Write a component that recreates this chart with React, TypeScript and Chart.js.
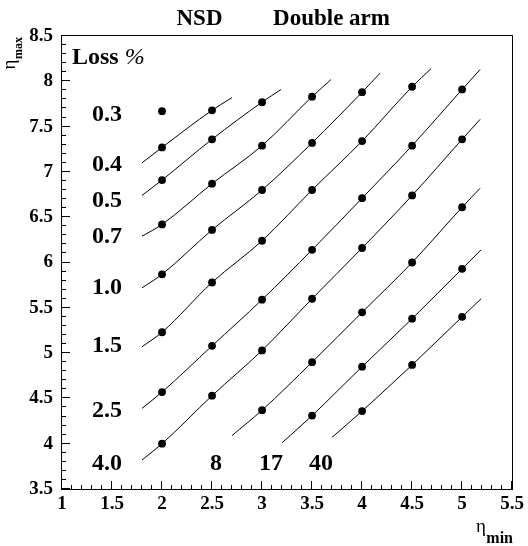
import React, { useEffect, useRef } from "react";
import { Chart, registerables } from "chart.js";

Chart.register(...registerables);

const FONT = '"Liberation Serif", "Times New Roman", serif';

// Loss contours (in %), top-left to bottom-right
const lossLabels = ["0.3", "0.4", "0.5", "0.7", "1.0", "1.5", "2.5", "4.0", "8", "17", "40"];

// eta_min of the first simulated point on each contour (points follow every 0.5)
const firstEtaMin = [2, 2, 2, 2, 2, 2, 2, 2, 3, 3.5, 4];

// eta_max of the simulated points on each contour
const etaMax0p3 = [7.67];
const etaMax0p4 = [7.27, 7.68];
const etaMax0p5 = [6.91, 7.36, 7.77];
const etaMax0p7 = [6.42, 6.87, 7.29, 7.83];
const etaMax1p0 = [5.87, 6.36, 6.8, 7.32, 7.88];
const etaMax1p5 = [5.23, 5.78, 6.24, 6.8, 7.34, 7.94];
const etaMax2p5 = [4.57, 5.08, 5.59, 6.14, 6.71, 7.29, 7.91];
const etaMax4p0 = [4.0, 4.53, 5.03, 5.6, 6.16, 6.74, 7.36];
const etaMax8 = [4.37, 4.9, 5.45, 6.0, 6.61];
const etaMax17 = [4.31, 4.85, 5.38, 5.93];
const etaMax40 = [4.36, 4.87, 5.4];

// extent of the fitted curve through each contour (no curve for 0.3)
const fitStartEtaMin = [null, 1.8, 1.8, 1.8, 1.8, 1.8, 1.8, 1.8, 2.7, 3.2, 3.7];
const fitStartEtaMax = [null, 7.1, 6.74, 6.29, 5.72, 5.07, 4.39, 3.82, 4.09, 4.01, 4.07];
const fitEndEtaMin = [null, 2.7, 3.19, 3.69, 4.18, 4.69, 5.18, 5.18, 5.18, 5.19, 5.19];
const fitEndEtaMax = [null, 7.82, 7.91, 8.02, 8.09, 8.14, 8.13, 7.58, 6.82, 6.14, 5.6];

// where each contour's loss value is written (axis units)
const labelEtaMin = [1.45, 1.45, 1.45, 1.45, 1.45, 1.45, 1.45, 1.45, 2.54, 3.09, 3.59];
const labelEtaMax = [7.63, 7.075, 6.68, 6.28, 5.72, 5.08, 4.365, 3.78, 3.78, 3.78, 3.78];

const etaMaxByLoss = [
  etaMax0p3, etaMax0p4, etaMax0p5, etaMax0p7, etaMax1p0, etaMax1p5,
  etaMax2p5, etaMax4p0, etaMax8, etaMax17, etaMax40,
];

const xMin = 1;
const xMax = 5.5;
const yMin = 3.5;
const yMax = 8.5;

function contourPoints(i: number) {
  return etaMaxByLoss[i].map((y, j) => ({ x: firstEtaMin[i] + 0.5 * j, y }));
}

function buildDatasets() {
  const sets: any[] = [];
  lossLabels.forEach((_, i) => {
    if (fitStartEtaMin[i] === null) return;
    sets.push({
      label: "fit " + lossLabels[i],
      data: [
        { x: fitStartEtaMin[i], y: fitStartEtaMax[i] },
        ...contourPoints(i),
        { x: fitEndEtaMin[i], y: fitEndEtaMax[i] },
      ],
      showLine: true,
      borderColor: "#000",
      borderWidth: 1,
      pointRadius: 0,
      cubicInterpolationMode: "monotone",
      order: 2,
    });
  });
  const all: { x: number; y: number }[] = [];
  lossLabels.forEach((_, i) => all.push(...contourPoints(i)));
  sets.push({
    label: "simulation",
    data: all,
    showLine: false,
    pointRadius: 3.9,
    pointBackgroundColor: "#000",
    pointBorderColor: "#000",
    pointBorderWidth: 0,
    order: 1,
  });
  return sets;
}

// Draws a symbol followed by a bold subscript, origin at the symbol's baseline start
function drawSubscripted(
  ctx: CanvasRenderingContext2D,
  main: string,
  sub: string,
  mainFont: string,
  subFont: string,
  subDrop: number
) {
  ctx.font = mainFont;
  const w1 = ctx.measureText(main).width;
  ctx.fillText(main, 0, 0);
  ctx.font = subFont;
  ctx.fillText(sub, w1 + 0.5, subDrop);
}

function widthSubscripted(
  ctx: CanvasRenderingContext2D,
  main: string,
  sub: string,
  mainFont: string,
  subFont: string
) {
  ctx.font = mainFont;
  const w1 = ctx.measureText(main).width;
  ctx.font = subFont;
  return w1 + 0.5 + ctx.measureText(sub).width;
}

const tickText = (v: any) => String(Number(v));

const rootStyle = {
  id: "rootStyle",
  afterDraw(chart: any) {
    const { ctx, chartArea } = chart;
    const xs = chart.scales.x;
    const ys = chart.scales.y;
    const L = Math.round(chartArea.left);
    const R = Math.round(chartArea.right);
    const T = Math.round(chartArea.top);
    const B = Math.round(chartArea.bottom);
    ctx.save();
    ctx.strokeStyle = "#000";
    ctx.fillStyle = "#000";
    ctx.lineWidth = 1;

    // frame
    ctx.strokeRect(L - 0.5, T - 0.5, R - L + 1, B - T + 1);

    // inner tick marks on the bottom axis
    ctx.beginPath();
    for (let k = Math.round(xMin * 10); k <= Math.round(xMax * 10); k++) {
      const px = Math.round(xs.getPixelForValue(k / 10)) - 0.5;
      const len = k % 5 === 0 ? 8 : 4;
      ctx.moveTo(px, B);
      ctx.lineTo(px, B - len);
    }
    // inner tick marks on the left axis
    for (let k = Math.round(yMin * 10); k <= Math.round(yMax * 10); k++) {
      const py = Math.round(ys.getPixelForValue(k / 10)) - 0.5;
      const len = k % 5 === 0 ? 8 : 4;
      ctx.moveTo(L, py);
      ctx.lineTo(L + len, py);
    }
    ctx.stroke();

    // title
    ctx.textBaseline = "alphabetic";
    ctx.textAlign = "center";
    ctx.font = `bold 23px ${FONT}`;
    ctx.fillText("NSD", 199.5, 25);
    ctx.fillText("Double arm", 331.5, 25);

    // header of the contour labels
    ctx.textAlign = "left";
    ctx.font = `bold 24px ${FONT}`;
    const lossText = "Loss ";
    ctx.fillText(lossText, 72, 64);
    const lw = ctx.measureText(lossText).width;
    ctx.font = `italic 24px ${FONT}`;
    ctx.fillText("%", 72 + lw, 64);

    // contour labels
    ctx.textAlign = "center";
    ctx.textBaseline = "middle";
    ctx.font = `bold 24px ${FONT}`;
    lossLabels.forEach((t, i) => {
      ctx.fillText(t, xs.getPixelForValue(labelEtaMin[i]), ys.getPixelForValue(labelEtaMax[i]));
    });

    // x axis title: eta_min, right aligned to the axis end
    ctx.textBaseline = "alphabetic";
    ctx.textAlign = "left";
    const fMainX = `19px ${FONT}`;
    const fSubX = `bold 16px ${FONT}`;
    const wx = widthSubscripted(ctx, "η", "min", fMainX, fSubX);
    ctx.save();
    ctx.translate(R + 1 - wx, 532);
    drawSubscripted(ctx, "η", "min", fMainX, fSubX, 11);
    ctx.restore();

    // y axis title: eta_max, rotated, ending at the axis top
    const fMainY = `19px ${FONT}`;
    const fSubY = `bold 12px ${FONT}`;
    const wy = widthSubscripted(ctx, "η", "max", fMainY, fSubY);
    ctx.save();
    ctx.translate(15, T + 1 + wy);
    ctx.rotate(-Math.PI / 2);
    drawSubscripted(ctx, "η", "max", fMainY, fSubY, 7);
    ctx.restore();

    ctx.restore();
  },
};

export default function App() {
  const ref = useRef<HTMLCanvasElement>(null);

  useEffect(() => {
    if (!ref.current) return;
    const chart = new Chart(ref.current, {
      type: "scatter",
      data: { datasets: buildDatasets() },
      options: {
        responsive: false,
        animation: false,
        devicePixelRatio: 1,
        layout: { padding: { top: 36, right: 13, left: 0, bottom: 0 } },
        plugins: {
          legend: { display: false },
          tooltip: { enabled: false },
          title: { display: false },
        },
        scales: {
          x: {
            type: "linear",
            min: xMin,
            max: xMax,
            grid: { display: false, drawTicks: false, tickLength: 0 },
            border: { display: false },
            ticks: {
              stepSize: 0.5,
              autoSkip: false,
              maxRotation: 0,
              padding: 4,
              color: "#000",
              font: { family: FONT, size: 19, weight: "bold" },
              callback: tickText,
            },
            afterFit: (s: any) => {
              s.height = 57;
            },
          },
          y: {
            type: "linear",
            min: yMin,
            max: yMax,
            grid: { display: false, drawTicks: false, tickLength: 0 },
            border: { display: false },
            ticks: {
              stepSize: 0.5,
              autoSkip: false,
              padding: 9,
              color: "#000",
              font: { family: FONT, size: 19, weight: "bold" },
              callback: tickText,
            },
            afterFit: (s: any) => {
              s.width = 62;
            },
          },
        },
      },
      plugins: [rootStyle],
    });
    return () => chart.destroy();
  }, []);

  return (
    <div style={{ position: "absolute", left: 0, top: 0, width: 528, height: 546 }}>
      <canvas ref={ref} width={528} height={546} style={{ display: "block" }} />
    </div>
  );
}
